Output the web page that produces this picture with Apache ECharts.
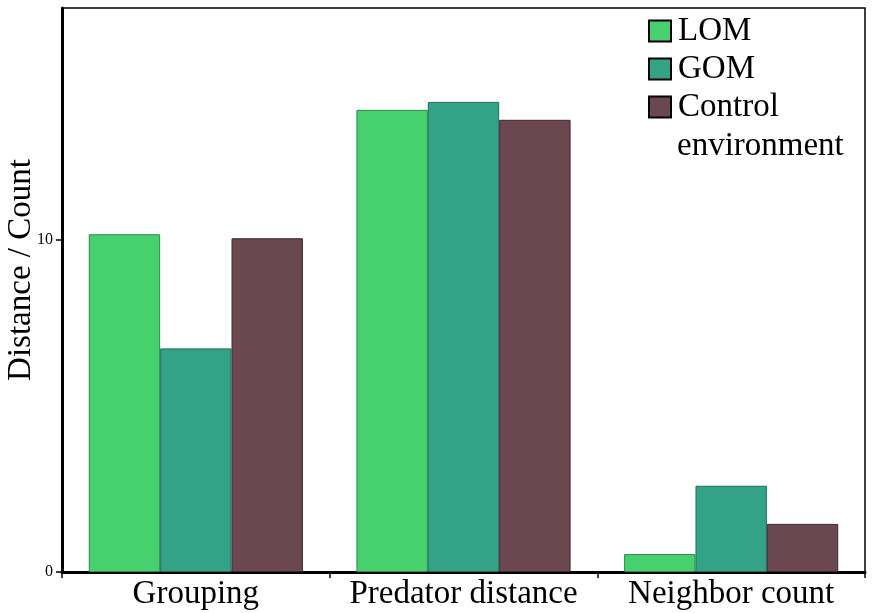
<!DOCTYPE html>
<html lang="en">
<head>
<meta charset="UTF-8">
<title>Chart</title>
<script src="https://cdn.jsdelivr.net/npm/echarts@6/dist/echarts.min.js"></script>
<style>
  html, body { margin: 0; padding: 0; background: #fff; }
  #main { width: 874px; height: 613px; }
</style>
</head>
<body>
<div id="main"></div>
<script type="text/javascript">
    var categories = ['Grouping', 'Predator distance', 'Neighbor count'];
    var lomValues = [10.18, 13.93, 0.54];
    var gomValues = [6.74, 14.17, 2.60];
    var controlValues = [10.06, 13.63, 1.45];
    var seriesNames = ['LOM', 'GOM', 'Control environment'];

    var FONT = '"Liberation Serif", "DejaVu Serif", serif';

    var chart = echarts.init(document.getElementById('main'));

    function barSeries(name, values, color, border) {
        return {
            name: name,
            type: 'bar',
            data: values,
            barGap: 0,
            barCategoryGap: '20%',
            itemStyle: {
                color: color,
                borderColor: border,
                borderWidth: 1
            }
        };
    }

    var option = {
        animation: false,
        grid: {
            left: 62,
            right: 9,
            top: 8,
            bottom: 41,
            containLabel: false,
            outerBoundsMode: 'none',
            show: true,
            borderColor: '#000',
            borderWidth: 1.5,
            backgroundColor: 'transparent'
        },
        legend: {
            orient: 'vertical',
            left: 648,
            top: 12,
            padding: 0,
            itemWidth: 22,
            itemHeight: 21,
            itemGap: 0,
            icon: 'rect',
            itemStyle: { borderColor: '#000', borderWidth: 2 },
            textStyle: { fontFamily: FONT, fontSize: 33, color: '#000', lineHeight: 38, padding: [0, 0, 0, 2] },
            // the long name wraps: first word next to the swatch, second line drawn below
            formatter: function (name) {
                return name === 'Control environment' ? 'Control' : name;
            },
            data: seriesNames
        },
        graphic: [{
            type: 'text',
            left: 677,
            top: 130,
            style: { text: 'environment', font: '33px ' + FONT, fill: '#000' }
        }],
        xAxis: {
            type: 'category',
            data: categories,
            axisLine: { lineStyle: { color: '#000', width: 3 } },
            axisTick: { show: true, length: 6, lineStyle: { color: '#000', width: 1.5 } },
            axisLabel: { fontFamily: FONT, fontSize: 33, color: '#000', margin: 6, interval: 0 }
        },
        yAxis: {
            type: 'value',
            min: 0,
            max: 17,
            interval: 10,
            name: 'Distance / Count',
            nameLocation: 'middle',
            nameGap: 24,
            nameMoveOverlap: false,
            nameTextStyle: { fontFamily: FONT, fontSize: 33, color: '#000', padding: [0, 0, 0, 40] },
            splitLine: { show: false },
            axisLine: { show: true, lineStyle: { color: '#000', width: 3 } },
            axisTick: { show: true, length: 6, lineStyle: { color: '#000', width: 1.5 } },
            axisLabel: {
                fontFamily: FONT, fontSize: 16, color: '#000', margin: 9,
                showMaxLabel: false,
                formatter: function (v) { return v % 10 === 0 ? String(v) : ''; }
            }
        },
        series: [
            barSeries(seriesNames[0], lomValues, '#46d16e', '#2f8a4c'),
            barSeries(seriesNames[1], gomValues, '#33a287', '#1e6e5a'),
            barSeries(seriesNames[2], controlValues, '#6b474f', '#3e2830')
        ]
    };

    chart.setOption(option);
</script>
</body>
</html>
